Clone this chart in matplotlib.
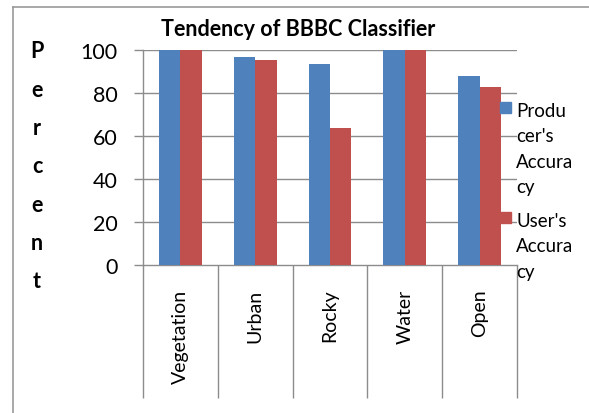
import matplotlib
matplotlib.use("Agg")
import matplotlib.pyplot as plt
from matplotlib.lines import Line2D
from matplotlib.patches import Rectangle

# Data
categories = ["Vegetation", "Urban", "Rocky", "Water", "Open"]
producers_accuracy = [100.0, 96.7, 93.5, 100.0, 87.9]
users_accuracy = [100.0, 95.3, 63.7, 100.0, 82.8]
series_labels = ["Produ\ncer's\nAccura\ncy", "User's\nAccura\ncy"]
y_ticks = [0, 20, 40, 60, 80, 100]
title = "Tendency of BBBC Classifier"
y_label = "Percent"

blue = "#4F81BD"
red = "#C0504D"
grid_gray = "#8C8C8C"

W, H = 589, 414
plt.rcParams["font.family"] = ["Lato", "DejaVu Sans"]
fig = plt.figure(figsize=(W / 100, H / 100), dpi=100)

def fx(px):
    return px / W

def fy(py):
    return 1 - py / H

# Plot area
left, right, top, bottom = 143, 517, 51, 266
ax = fig.add_axes([fx(left), fy(bottom), fx(right - left), (bottom - top) / H])

bw = 1 / 3.5
xs = list(range(len(categories)))
ax.bar([x - bw / 2 for x in xs], producers_accuracy, width=bw, color=blue, zorder=3)
ax.bar([x + bw / 2 for x in xs], users_accuracy, width=bw, color=red, zorder=3)

ax.set_xlim(-0.5, len(categories) - 0.5)
ax.set_ylim(0, 100)
ax.set_yticks(y_ticks)
ax.set_yticklabels([str(t) for t in y_ticks], fontsize=15.5)
ax.tick_params(axis="y", length=6.5, width=1.0, color=grid_gray, pad=12)
for t in y_ticks[1:]:
    ax.axhline(t, color=grid_gray, lw=1.0, zorder=1)

# Category boundaries as long tick lines, labels centred in each box
ax.set_xticks([x - 0.5 for x in range(len(categories) + 1)])
ax.set_xticklabels([])
ax.tick_params(axis="x", which="major", length=96, width=1.0, color=grid_gray)
ax.set_xticks(xs, minor=True)
ax.set_xticklabels(categories, minor=True, rotation=90, fontsize=14, va="top")
ax.tick_params(axis="x", which="minor", length=0, pad=17)

for s in ["top", "right"]:
    ax.spines[s].set_visible(False)
for s in ["left", "bottom"]:
    ax.spines[s].set_color(grid_gray)
    ax.spines[s].set_linewidth(1.0)

# Title
fig.text(fx(298), fy(29), title, ha="center", va="center", fontsize=15.5, fontweight="bold")

# Stacked y-axis label
for i, ch in enumerate(y_label):
    fig.text(fx(37), fy(52 + i * 38.3), ch, ha="center", va="center", fontsize=15.5, fontweight="bold")

# Legend
legend_rows = [(103, blue, series_labels[0]), (213, red, series_labels[1])]
for ytop, col, lab in legend_rows:
    fig.patches.append(Rectangle((fx(500), fy(ytop + 11)), fx(11), 11 / H,
                                 transform=fig.transFigure, color=col))
    fig.text(fx(516), fy(ytop), lab, ha="left", va="top", fontsize=13.5, linespacing=1.6)

# Outer frame
fig.add_artist(Line2D([fx(13), 1], [fy(8), fy(8)], color="#999999", lw=1.2, transform=fig.transFigure))
fig.add_artist(Line2D([fx(13), fx(13)], [fy(8), 0], color="#999999", lw=1.2, transform=fig.transFigure))

fig.savefig("out.png", dpi=100)
